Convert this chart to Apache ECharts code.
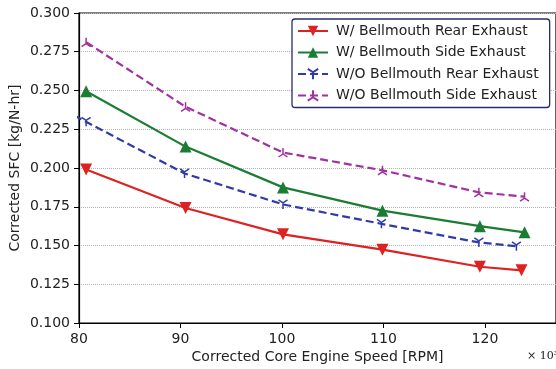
<!DOCTYPE html>
<html>
<head>
<meta charset="utf-8">
<script src="https://cdn.jsdelivr.net/npm/echarts@6/dist/echarts.min.js"></script>
<style>html,body{margin:0;padding:0;background:#fff}#c{width:556px;height:369px}</style>
</head>
<body>
<div id="c"></div>
<script>
const seriesNames = ['W/ Bellmouth Rear Exhaust','W/ Bellmouth Side Exhaust','W/O Bellmouth Rear Exhaust','W/O Bellmouth Side Exhaust'];
const wRearX = [80.7, 90.5, 100.1, 109.9, 119.5, 123.6];
const wRearY = [0.199, 0.1742, 0.1572, 0.1473, 0.1363, 0.1340];
const wSideX = [80.7, 90.5, 100.1, 109.9, 119.5, 123.9];
const wSideY = [0.2495, 0.2138, 0.1875, 0.1725, 0.1625, 0.1585];
const woRearX = [78.5, 80.7, 90.4, 100.1, 109.8, 119.4, 123.1];
const woRearY = [0.2375, 0.2298, 0.1965, 0.1765, 0.1640, 0.1520, 0.1495];
const woSideX = [80.7, 90.5, 100.1, 109.9, 119.4, 123.9];
const woSideY = [0.2812, 0.2395, 0.2100, 0.1985, 0.1843, 0.1815];
const yTicks = {min: 0.100, max: 0.300, step: 0.025};
const xTicks = {min: 80, max: 127, step: 10};

const zip = (xs, ys) => xs.map((x, i) => [x, ys[i]]);
const triDown = 'path://M0,0 L0,10 M0,0 L-8.66,-5 M0,0 L8.66,-5';
const triUp = 'path://M0,0 L0,-10 M0,0 L-8.66,5 M0,0 L8.66,5';
const colors = ['#dd2222', '#1b7d34', '#2f3ca8', '#a0329f'];

const chart = echarts.init(document.getElementById('c'), null, {renderer: 'canvas'});
const font = 'DejaVu Sans';
chart.setOption({
  animation: false,
  textStyle: {fontFamily: font},
  grid: {left: 79, top: 13, right: 0, bottom: 46, outerBoundsMode: 'none', containLabel: false,
    show: true, borderColor: '#000', borderWidth: 1.2, backgroundColor: 'transparent'},
  legend: {
    orient: 'vertical', left: 292, top: 19,
    itemWidth: 30, itemHeight: 13, itemGap: 7.5,
    padding: [5, 11, 5, 5],
    borderColor: '#2a2a6e', borderWidth: 1.3, borderRadius: 3,
    backgroundColor: '#fff',
    textStyle: {fontFamily: font, fontSize: 14, color: '#222', padding: [0, 0, 0, 3]},
    data: seriesNames
  },
  xAxis: {
    type: 'value', min: xTicks.min, max: xTicks.max, interval: xTicks.step,
    name: 'Corrected Core Engine Speed [RPM]', nameLocation: 'middle', nameGap: 27,
    nameMoveOverlap: false,
    nameTextStyle: {fontFamily: font, fontSize: 14, color: '#222'},
    axisLine: {lineStyle: {color: '#000', width: 1.2}},
    axisTick: {show: true, inside: false, length: 5, lineStyle: {color: '#000'}},
    axisLabel: {fontFamily: font, fontSize: 14, color: '#222', margin: 9,
      formatter: v => (v % 10 === 0 ? String(v) : ''), showMaxLabel: false},
    splitLine: {show: false}
  },
  yAxis: {
    type: 'value', min: yTicks.min, max: yTicks.max, interval: yTicks.step,
    name: 'Corrected SFC [kg/N-hr]', nameLocation: 'middle', nameGap: 57,
    nameMoveOverlap: false,
    nameTextStyle: {fontFamily: font, fontSize: 14, color: '#222'},
    axisLine: {lineStyle: {color: '#000', width: 1.2}},
    axisTick: {show: true, inside: false, length: 5, lineStyle: {color: '#000'}},
    axisLabel: {fontFamily: font, fontSize: 14, color: '#222', margin: 9, formatter: v => v.toFixed(3)},
    splitLine: {show: true, lineStyle: {color: '#b4b4b4', type: [1, 1], width: 1}}
  },
  graphic: [{
    type: 'text', left: 527, top: 351,
    style: {text: '× 10³', fontFamily: 'DejaVu Serif', fontSize: 11, fill: '#222'}
  }],
  series: [
    {name: seriesNames[0], type: 'line', data: zip(wRearX, wRearY), clip: true,
     symbol: 'triangle', symbolRotate: 180, symbolSize: 12,
     lineStyle: {color: colors[0], width: 2.2}, itemStyle: {color: colors[0]}},
    {name: seriesNames[1], type: 'line', data: zip(wSideX, wSideY), clip: true,
     symbol: 'triangle', symbolSize: 12,
     lineStyle: {color: colors[1], width: 2.2}, itemStyle: {color: colors[1]}},
    {name: seriesNames[2], type: 'line', data: zip(woRearX, woRearY), clip: true,
     symbol: triDown, symbolSize: 9,
     lineStyle: {color: colors[2], width: 2.2, type: [8, 4]},
     itemStyle: {color: colors[2], borderColor: colors[2], borderWidth: 1.5}},
    {name: seriesNames[3], type: 'line', data: zip(woSideX, woSideY), clip: true,
     symbol: triUp, symbolSize: 9,
     lineStyle: {color: colors[3], width: 2.2, type: [8, 4]},
     itemStyle: {color: colors[3], borderColor: colors[3], borderWidth: 1.5}}
  ]
});
</script>
</body>
</html>
